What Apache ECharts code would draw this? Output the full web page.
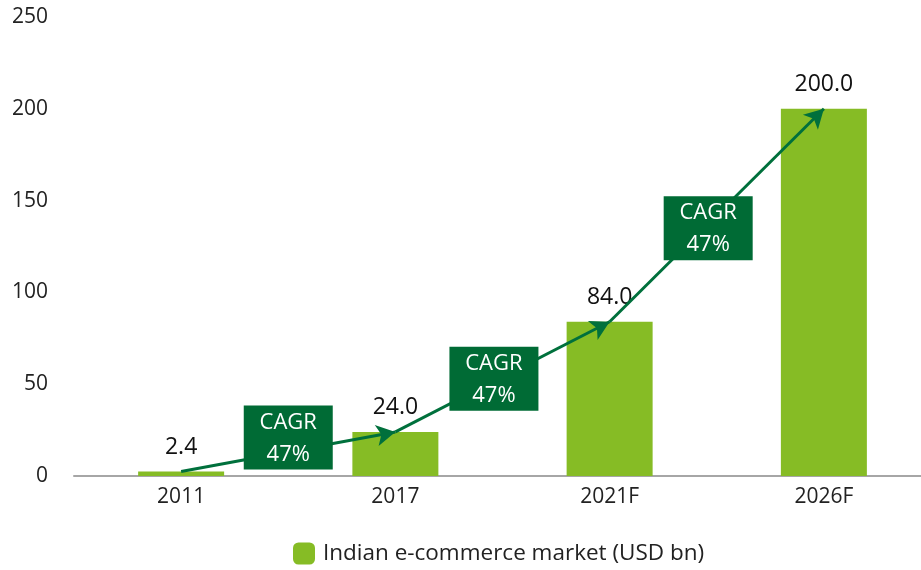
<!DOCTYPE html>
<html>
<head>
<meta charset="utf-8">
<script src="https://cdn.jsdelivr.net/npm/echarts@6/dist/echarts.min.js"></script>
<style>
  html, body { margin: 0; padding: 0; background: #fff; }
  #main { width: 921px; height: 570px; }
</style>
</head>
<body>
<div id="main"></div>
<script>
// data
const years = ['2011', '2017', '2021F', '2026F']
const marketSize = [2.4, 24.0, 84.0, 200.0]
const yTicks = [0, 50, 100, 150, 200, 250]
// CAGR boxes: [position along category axis, value, text]
const cagrBoxes = [
  [0.5, 21, 'CAGR\n47%'],
  [1.46, 53, 'CAGR\n47%'],
  [2.46, 135, 'CAGR\n47%']
]

const barColor = '#86bc25'
const darkGreen = '#006b35'
const font = 'Open Sans'

// arrows between consecutive bar tops
let arrows = []
for (let i = 0; i < years.length - 1; i++) {
  arrows.push([
    { coord: [years[i], marketSize[i]] },
    { coord: [years[i + 1], marketSize[i + 1]] }
  ])
}

const chart = echarts.init(document.getElementById('main'))
chart.setOption({
  animation: false,
  textStyle: { fontFamily: font },
  grid: { left: 74, width: 857, top: 17, bottom: 94, containLabel: false, outerBoundsMode: 'none' },
  legend: {
    bottom: 0,
    left: 288,
    itemWidth: 22,
    itemHeight: 22,
    itemGap: 10,
    textStyle: { fontSize: 22.5, color: '#222', fontFamily: font, padding: [0, 0, 0, 3] },
    data: ['Indian e-commerce market (USD bn)']
  },
  xAxis: [
    {
      type: 'category',
      data: years,
      axisLine: { lineStyle: { color: '#a6a6a6', width: 2 } },
      axisTick: { show: false },
      axisLabel: { fontSize: 21, color: '#222', margin: 11, fontFamily: font }
    },
    {
      // helper axis so the CAGR boxes can sit between categories
      type: 'value',
      min: -0.5,
      max: years.length - 0.5,
      show: false
    }
  ],
  yAxis: {
    type: 'value',
    min: yTicks[0],
    max: yTicks[yTicks.length - 1],
    interval: 50,
    splitLine: { show: false },
    axisLine: { show: false },
    axisTick: { show: false },
    axisLabel: { fontSize: 21, color: '#222', margin: 26, fontFamily: font }
  },
  series: [
    {
      name: 'Indian e-commerce market (USD bn)',
      type: 'bar',
      data: marketSize,
      barWidth: 86,
      itemStyle: { color: barColor },
      label: {
        show: true,
        position: 'top',
        distance: 13,
        fontSize: 23,
        color: '#111',
        fontFamily: font,
        formatter: (p) => p.value.toFixed(1)
      },
      markLine: {
        silent: true,
        symbol: ['none', 'arrow'],
        symbolSize: [16, 19],
        label: { show: false },
        lineStyle: { color: '#00703c', width: 3, type: 'solid' },
        data: arrows
      }
    },
    {
      type: 'custom',
      xAxisIndex: 1,
      z: 10,
      silent: true,
      data: cagrBoxes,
      renderItem(params, api) {
        const pt = api.coord([api.value(0), api.value(1)])
        const w = 89, h = 64
        return {
          type: 'group',
          children: [
            {
              type: 'rect',
              shape: { x: pt[0] - w / 2, y: pt[1] - h / 2, width: w, height: h },
              style: { fill: darkGreen }
            },
            {
              type: 'text',
              x: pt[0],
              y: pt[1] + 1,
              style: {
                text: cagrBoxes[params.dataIndex][2],
                fill: '#fff',
                fontSize: 22,
                fontFamily: font,
                lineHeight: 32,
                align: 'center',
                verticalAlign: 'middle'
              }
            }
          ]
        }
      }
    }
  ]
})
</script>
</body>
</html>
